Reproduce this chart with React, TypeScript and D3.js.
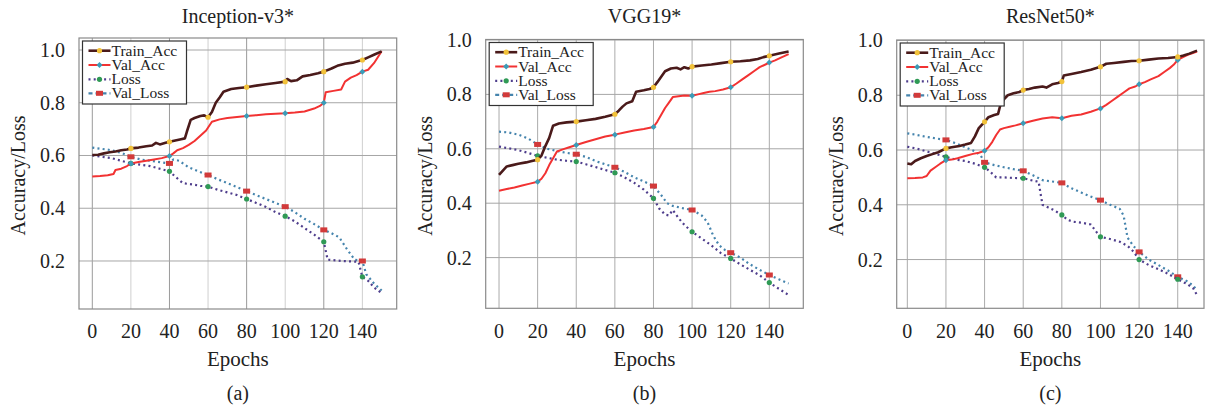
import React from "react";
import * as d3 from "d3";

type P = [number, number];

// ---------- data (epoch, value) ----------
const incTrainAcc: P[] = [
  [0,0.602],[3,0.603],[6,0.608],[9,0.612],[12,0.615],[15,0.62],[18,0.623],[20,0.627],[24,0.63],[28,0.635],[31,0.638],[33,0.648],[35,0.642],[38,0.648],[40,0.652],[43,0.657],[46,0.662],[48,0.665],[49,0.69],[51,0.735],[53,0.742],[56,0.75],[58,0.752],[60,0.745],[62,0.765],[64,0.8],[66,0.82],[68,0.842],[72,0.852],[76,0.856],[80,0.859],[85,0.865],[90,0.87],[95,0.875],[100,0.88],[101,0.89],[103,0.882],[106,0.885],[109,0.9],[113,0.905],[117,0.912],[120,0.918],[124,0.93],[127,0.94],[131,0.948],[135,0.952],[138,0.958],[140,0.962],[143,0.972],[146,0.982],[150,0.995]
];
const incValAcc: P[] = [
  [0,0.52],[4,0.522],[8,0.525],[11,0.53],[12,0.545],[15,0.55],[18,0.56],[20,0.57],[24,0.575],[28,0.58],[32,0.585],[36,0.59],[40,0.598],[42,0.608],[44,0.62],[47,0.628],[50,0.64],[53,0.655],[56,0.675],[59,0.695],[62,0.728],[66,0.737],[70,0.742],[75,0.746],[80,0.75],[85,0.753],[90,0.756],[95,0.758],[100,0.76],[105,0.763],[110,0.767],[115,0.778],[118,0.788],[120,0.8],[121,0.84],[125,0.845],[129,0.85],[131,0.88],[134,0.895],[137,0.905],[140,0.918],[143,0.925],[146,0.95],[150,0.995]
];
const incLoss: P[] = [
  [0,0.6],[5,0.595],[10,0.59],[15,0.58],[20,0.57],[25,0.565],[30,0.56],[35,0.55],[40,0.54],[43,0.52],[47,0.495],[52,0.49],[56,0.485],[60,0.482],[65,0.47],[70,0.46],[75,0.45],[80,0.435],[85,0.42],[90,0.405],[95,0.385],[100,0.37],[105,0.35],[110,0.325],[115,0.3],[120,0.273],[122,0.205],[130,0.2],[138,0.197],[140,0.14],[143,0.125],[146,0.1],[150,0.078]
];
const incValLoss: P[] = [
  [0,0.63],[5,0.625],[10,0.62],[15,0.61],[20,0.595],[25,0.585],[30,0.58],[35,0.575],[40,0.57],[42,0.585],[45,0.58],[50,0.555],[55,0.54],[60,0.526],[65,0.51],[70,0.495],[75,0.48],[80,0.465],[85,0.45],[90,0.435],[95,0.42],[100,0.406],[105,0.385],[110,0.36],[115,0.34],[120,0.318],[124,0.305],[128,0.29],[132,0.245],[136,0.205],[140,0.2],[142,0.15],[146,0.115],[150,0.088]
];

const vggTrainAcc: P[] = [
  [0,0.504],[2,0.52],[4,0.535],[7,0.54],[10,0.545],[14,0.55],[17,0.555],[20,0.56],[22,0.575],[24,0.61],[26,0.64],[28,0.685],[31,0.693],[35,0.697],[40,0.7],[45,0.705],[50,0.71],[55,0.718],[60,0.727],[62,0.74],[64,0.755],[66,0.767],[69,0.775],[71,0.81],[75,0.815],[78,0.82],[80,0.826],[82,0.845],[84,0.865],[86,0.885],[89,0.895],[92,0.898],[94,0.892],[96,0.9],[98,0.895],[100,0.902],[105,0.906],[110,0.91],[115,0.915],[120,0.92],[125,0.922],[130,0.925],[134,0.93],[137,0.937],[140,0.942],[145,0.95],[150,0.958]
];
const vggValAcc: P[] = [
  [0,0.446],[4,0.452],[8,0.458],[12,0.465],[16,0.472],[20,0.479],[22,0.49],[24,0.51],[26,0.54],[28,0.565],[30,0.59],[33,0.598],[36,0.605],[40,0.614],[45,0.625],[50,0.635],[55,0.645],[60,0.652],[65,0.66],[70,0.667],[75,0.673],[80,0.68],[82,0.7],[84,0.725],[86,0.75],[88,0.77],[90,0.79],[93,0.793],[96,0.796],[100,0.795],[103,0.8],[106,0.805],[109,0.81],[112,0.812],[116,0.818],[120,0.826],[123,0.84],[126,0.855],[129,0.87],[132,0.885],[135,0.9],[138,0.91],[140,0.917],[143,0.925],[146,0.935],[150,0.948]
];
const vggLoss: P[] = [
  [0,0.608],[5,0.602],[10,0.595],[15,0.585],[20,0.574],[25,0.567],[30,0.56],[35,0.556],[40,0.553],[45,0.543],[50,0.533],[55,0.522],[60,0.512],[65,0.495],[70,0.475],[75,0.45],[80,0.418],[83,0.38],[86,0.358],[88,0.355],[90,0.375],[93,0.345],[96,0.32],[100,0.295],[105,0.27],[110,0.245],[115,0.216],[120,0.197],[125,0.175],[130,0.155],[135,0.135],[140,0.108],[145,0.085],[150,0.0625]
];
const vggValLoss: P[] = [
  [0,0.663],[5,0.66],[10,0.652],[15,0.638],[20,0.616],[25,0.6],[30,0.592],[35,0.585],[40,0.58],[45,0.57],[50,0.555],[55,0.543],[60,0.532],[65,0.515],[70,0.495],[75,0.48],[80,0.463],[84,0.43],[87,0.4],[90,0.39],[95,0.382],[100,0.375],[105,0.355],[108,0.33],[111,0.28],[114,0.245],[117,0.228],[120,0.218],[125,0.2],[130,0.175],[135,0.155],[140,0.136],[145,0.12],[150,0.105]
];

const resTrainAcc: P[] = [
  [0,0.551],[2,0.548],[4,0.56],[7,0.57],[10,0.578],[13,0.585],[16,0.592],[20,0.606],[23,0.61],[27,0.615],[30,0.62],[33,0.626],[35,0.65],[37,0.68],[40,0.703],[42,0.72],[45,0.728],[47,0.732],[48,0.76],[50,0.785],[52,0.8],[55,0.807],[58,0.812],[60,0.819],[63,0.823],[66,0.828],[70,0.832],[72,0.828],[75,0.84],[78,0.845],[80,0.85],[81,0.872],[85,0.878],[90,0.885],[95,0.893],[100,0.904],[103,0.915],[107,0.918],[112,0.922],[116,0.925],[120,0.926],[125,0.93],[130,0.934],[135,0.936],[140,0.94],[143,0.945],[146,0.952],[150,0.963]
];
const resValAcc: P[] = [
  [0,0.497],[4,0.498],[8,0.5],[10,0.505],[12,0.525],[15,0.54],[17,0.55],[20,0.563],[23,0.565],[26,0.57],[30,0.578],[34,0.586],[37,0.59],[40,0.597],[42,0.61],[44,0.63],[46,0.655],[48,0.675],[50,0.68],[53,0.685],[56,0.69],[60,0.698],[65,0.707],[70,0.715],[75,0.72],[80,0.716],[85,0.725],[90,0.73],[95,0.74],[100,0.752],[103,0.765],[106,0.78],[109,0.795],[112,0.81],[115,0.825],[118,0.832],[120,0.84],[123,0.848],[126,0.858],[130,0.87],[133,0.885],[136,0.9],[138,0.912],[140,0.929],[143,0.94],[146,0.95],[150,0.96]
];
const resLoss: P[] = [
  [0,0.612],[5,0.605],[10,0.595],[15,0.585],[20,0.575],[25,0.565],[30,0.56],[35,0.55],[40,0.537],[43,0.52],[46,0.5],[50,0.5],[55,0.498],[60,0.497],[64,0.49],[68,0.484],[69,0.44],[70,0.4],[73,0.39],[76,0.38],[80,0.363],[83,0.345],[86,0.338],[90,0.335],[95,0.328],[98,0.3],[100,0.283],[105,0.275],[110,0.265],[114,0.25],[117,0.23],[120,0.2],[125,0.18],[130,0.165],[135,0.148],[140,0.128],[145,0.11],[148,0.095],[150,0.07]
];
const resValLoss: P[] = [
  [0,0.661],[5,0.655],[10,0.648],[15,0.642],[20,0.637],[25,0.625],[30,0.61],[35,0.595],[38,0.58],[40,0.555],[45,0.545],[50,0.537],[55,0.53],[60,0.524],[65,0.508],[70,0.49],[75,0.485],[80,0.48],[85,0.46],[90,0.445],[95,0.43],[100,0.417],[105,0.4],[110,0.385],[112,0.36],[113,0.32],[114,0.28],[117,0.25],[120,0.228],[125,0.2],[130,0.18],[135,0.16],[140,0.137],[145,0.12],[148,0.105],[150,0.088]
];

const seriesNames = ["Train_Acc", "Val_Acc", "Loss", "Val_Loss"];
const xTicks = [0, 20, 40, 60, 80, 100, 120, 140];
const yTicks = [0.2, 0.4, 0.6, 0.8, 1.0];
const markerEvery = 20;

const FONT = "Liberation Serif, Times New Roman, Tinos, serif";
const txt: React.CSSProperties = { fontFamily: FONT };

const styles = [
  { stroke: "#4a1a1a", width: 2.6, dash: "", marker: "#f2c23a", mshape: "circle" },
  { stroke: "#f23232", width: 2.0, dash: "", marker: "#3b9cb8", mshape: "diamond" },
  { stroke: "#4e3d8c", width: 2.2, dash: "2 3.2", marker: "#2f9a55", mshape: "circle" },
  { stroke: "#4584ad", width: 2.2, dash: "2 3.2", marker: "#d23a3a", mshape: "rect" },
];

const panels = [
  { title: "Inception-v3*", tag: "(a)", left: 79, right: 396.7, top: 38, bottom: 309, xDom: [-6.9, 157.8], yDom: [0.018, 1.0455], series: [incTrainAcc, incValAcc, incLoss, incValLoss], alt: true },
  { title: "VGG19*", tag: "(b)", left: 485.7, right: 803.3, top: 39.5, bottom: 308.3, xDom: [-6.9, 157.6], yDom: [0.0136, 1.0018], series: [vggTrainAcc, vggValAcc, vggLoss, vggValLoss], alt: false },
  { title: "ResNet50*", tag: "(c)", left: 896.7, right: 1204, top: 40, bottom: 308.3, xDom: [-5.5, 153.6], yDom: [0.022, 1.0018], series: [resTrainAcc, resValAcc, resLoss, resValLoss], alt: false },
];

function Marker({ x, y, s }: { x: number; y: number; s: (typeof styles)[number] }) {
  if (s.mshape === "rect") return <rect x={x - 3.5} y={y - 2.5} width={7} height={5} fill={s.marker} />;
  if (s.mshape === "diamond")
    return <path d={`M${x},${y - 3}L${x + 3},${y}L${x},${y + 3}L${x - 3},${y}Z`} fill={s.marker} />;
  return <circle cx={x} cy={y} r={2.6} fill={s.marker} />;
}

function Panel({ p }: { p: (typeof panels)[number] }) {
  const x = d3.scaleLinear().domain(p.xDom).range([p.left, p.right]);
  const y = d3.scaleLinear().domain(p.yDom).range([p.bottom, p.top]);
  const line = d3
    .line<P>()
    .x((d) => x(d[0]))
    .y((d) => y(d[1]));
  const cx = (p.left + p.right) / 2;
  const cy = (p.top + p.bottom) / 2;
  const lgX = p.left + 3.5;
  const lgY = p.top + 3;
  const rowOff = [9.7, 24, 38.3, 52.3];
  return (
    <g>
      {xTicks.map((t, i) => (
        <line key={"gx" + t} x1={x(t)} x2={x(t)} y1={p.top} y2={p.bottom}
          stroke={p.alt ? (i % 2 === 0 ? "#9a9a9a" : "#cfcfcf") : "#ababab"} strokeWidth={1} />
      ))}
      {yTicks.map((t) => (
        <line key={"gy" + t} x1={p.left} x2={p.right} y1={y(t)} y2={y(t)} stroke="#a6a6a6" strokeWidth={1} />
      ))}
      <rect x={p.left} y={p.top} width={p.right - p.left} height={p.bottom - p.top} fill="none" stroke="#8a8a8a" strokeWidth={1.2} />
      {yTicks.map((t) => (
        <text key={"yl" + t} x={p.left - 14} y={y(t) + 7} textAnchor="end" fontSize={20} style={txt} fill="#222">
          {t.toFixed(1)}
        </text>
      ))}
      {xTicks.map((t) => (
        <text key={"xl" + t} x={x(t)} y={338} textAnchor="middle" fontSize={20} style={txt} fill="#222">
          {t}
        </text>
      ))}
      <text x={cx} y={23} textAnchor="middle" fontSize={20} style={txt} fill="#222">{p.title}</text>
      <text x={cx} y={365.5} textAnchor="middle" fontSize={21} style={txt} fill="#222">Epochs</text>
      <text x={cx} y={400} textAnchor="middle" fontSize={20} style={txt} fill="#222">{p.tag}</text>
      <text transform={`translate(${p.left - 54},${cy + 2}) rotate(-90)`} textAnchor="middle" fontSize={20} style={txt} fill="#222">
        Accuracy/Loss
      </text>
      {[3, 2, 1, 0].map((si) => {
        const s = styles[si];
        const data = p.series[si];
        return (
          <g key={"s" + si}>
            <path d={line(data) || ""} fill="none" stroke={s.stroke} strokeWidth={s.width}
              strokeDasharray={s.dash || undefined} strokeLinejoin="round" />
            {data
              .filter((d) => d[0] > 0 && d[0] % markerEvery === 0)
              .map((d) => (
                <Marker key={d[0]} x={x(d[0])} y={y(d[1])} s={s} />
              ))}
          </g>
        );
      })}
      <rect x={lgX} y={lgY} width={104} height={63} fill="#fff" stroke="#333" strokeWidth={1.2} />
      {seriesNames.map((n, i) => {
        const s = styles[i];
        const ry = lgY + rowOff[i];
        return (
          <g key={n}>
            <line x1={lgX + 6} x2={lgX + 28} y1={ry} y2={ry} stroke={s.stroke} strokeWidth={s.width}
              strokeDasharray={s.dash ? (i === 3 ? "4 3" : s.dash) : undefined} />
            <Marker x={lgX + 17} y={ry} s={s} />
            <text x={lgX + 29} y={ry + 5} fontSize={15.5} style={txt} fill="#222">{n}</text>
          </g>
        );
      })}
    </g>
  );
}

export default function App() {
  return (
    <svg width={1205} height={412} style={{ position: "absolute", left: 0, top: 0, background: "#fff" }}>
      <rect width={1205} height={412} fill="#fff" />
      {panels.map((p) => (
        <Panel key={p.title} p={p} />
      ))}
    </svg>
  );
}
